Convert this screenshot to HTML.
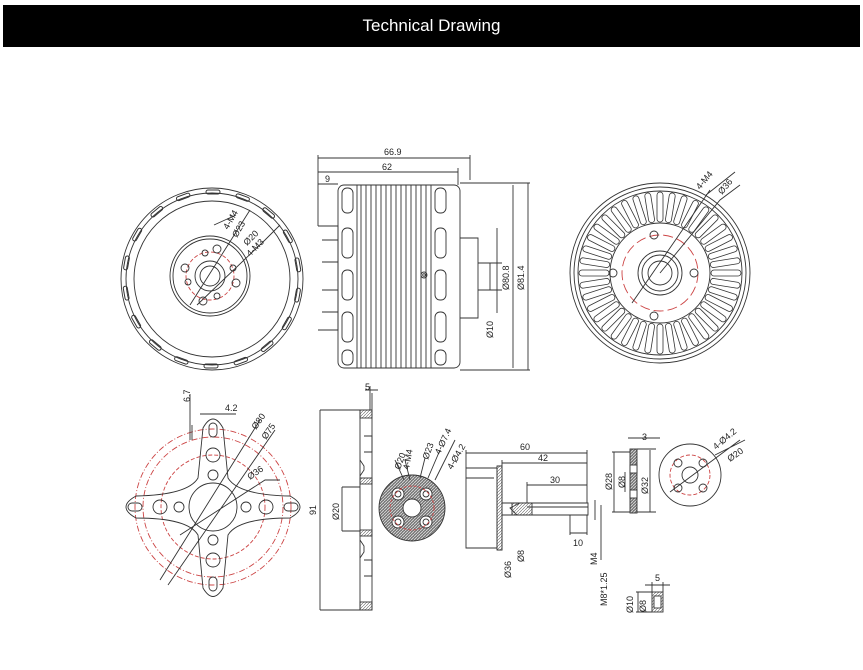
<!DOCTYPE html>
<html><head><meta charset="utf-8"><style>
html,body{margin:0;padding:0;background:#fff;width:863px;height:670px;overflow:hidden}
.hd{position:absolute;left:3px;top:5px;width:857px;height:42px;background:#000;color:#fff;font:17px "Liberation Sans",sans-serif;text-align:center;line-height:42px}
svg{position:absolute;left:0;top:0}
text{font-family:"Liberation Sans",sans-serif;font-size:9px;fill:#222;stroke:none}
</style></head><body>
<div class="hd">Technical Drawing</div>
<svg width="863" height="670" viewBox="0 0 863 670" fill="none" stroke="#333" stroke-width="0.9">
<defs>
<pattern id="h" width="3" height="3" patternUnits="userSpaceOnUse"><rect width="3" height="3" fill="#777" stroke="none"/><path d="M0 3L3 0" stroke="#ddd" stroke-width="0.8"/></pattern>
<pattern id="h2" width="3" height="3" patternUnits="userSpaceOnUse"><path d="M0 3L3 0" stroke="#666" stroke-width="0.6"/></pattern>
<rect id="s1" x="206" y="190" width="14" height="4" rx="2"/>
<rect id="f1" x="657" y="192" width="6" height="30" rx="3"/>
</defs>
<!-- View 1 -->
<g>
<circle cx="212" cy="279" r="91"/><circle cx="212" cy="279" r="86"/><circle cx="212" cy="279" r="78"/>
<circle cx="210" cy="276" r="40"/><circle cx="210" cy="276" r="37"/>
<circle cx="210" cy="276" r="24" stroke="#c44" stroke-dasharray="4 2"/>
<circle cx="210" cy="276" r="15"/><circle cx="210" cy="276" r="10"/>
<circle cx="217" cy="249" r="4"/><circle cx="233" cy="268" r="3"/><circle cx="236" cy="283" r="4"/><circle cx="203" cy="301" r="4"/><circle cx="217" cy="296" r="3"/><circle cx="185" cy="268" r="4"/><circle cx="188" cy="282" r="3"/><circle cx="205" cy="253" r="3"/>
<path d="M190 305L250 210M197 305L265 240L280 225M214 225L236 215"/>
<text transform="translate(228 230) rotate(-60)">4-M4</text>
<text transform="translate(237 238) rotate(-60)">Ø23</text>
<text transform="translate(247 246) rotate(-45)">Ø20</text>
<text transform="translate(250 257) rotate(-45)">4-M3</text>
<g stroke-width="1">
<use href="#s1"/><use href="#s1" transform="rotate(20 212 279)"/><use href="#s1" transform="rotate(40 212 279)"/><use href="#s1" transform="rotate(60 212 279)"/><use href="#s1" transform="rotate(80 212 279)"/><use href="#s1" transform="rotate(100 212 279)"/><use href="#s1" transform="rotate(120 212 279)"/><use href="#s1" transform="rotate(140 212 279)"/><use href="#s1" transform="rotate(160 212 279)"/><use href="#s1" transform="rotate(180 212 279)"/><use href="#s1" transform="rotate(200 212 279)"/><use href="#s1" transform="rotate(220 212 279)"/><use href="#s1" transform="rotate(240 212 279)"/><use href="#s1" transform="rotate(260 212 279)"/><use href="#s1" transform="rotate(280 212 279)"/><use href="#s1" transform="rotate(300 212 279)"/><use href="#s1" transform="rotate(320 212 279)"/><use href="#s1" transform="rotate(340 212 279)"/>
</g>
</g>
<!-- View 2 side -->
<g>
<path d="M318 155V226M470 155V180M458 168V185M318 226H338V330H318"/>
<path d="M318 158H470M318 172H458M318 184H338"/>
<text x="384" y="155">66.9</text><text x="382" y="170">62</text><text x="325" y="182">9</text>
<rect x="338" y="185" width="122" height="183" rx="6"/>
<path d="M322 240H338M322 262H338M322 290H338M322 312H338"/>
<path d="M357 185V368M361 185V368M366 185V368M371 185V368M376 185V368M381 185V368M386 185V368M391 185V368M396 185V368M401 185V368M406 185V368M411 185V368M416 185V368M421 185V368M426 185V368M431 185V368"/>
<rect x="342" y="188" width="11" height="25" rx="5"/><rect x="342" y="228" width="11" height="30" rx="5"/><rect x="342" y="270" width="11" height="30" rx="5"/><rect x="342" y="312" width="11" height="30" rx="5"/><rect x="342" y="350" width="11" height="15" rx="5"/>
<rect x="435" y="188" width="11" height="25" rx="5"/><rect x="435" y="228" width="11" height="30" rx="5"/><rect x="435" y="270" width="11" height="30" rx="5"/><rect x="435" y="312" width="11" height="30" rx="5"/><rect x="435" y="350" width="11" height="15" rx="5"/>
<circle cx="424" cy="275" r="3"/><circle cx="424" cy="275" r="1.3"/>
<path d="M460 238H478V318H460M478 263H490V290H478M460 183H530M460 370H530M490 263H502M490 290H502"/>
<path d="M497 228V313M513 185V368M528 183V370"/>
<text transform="translate(493 338) rotate(-90)">Ø10</text>
<text transform="translate(509 290) rotate(-90)">Ø80.8</text>
<text transform="translate(524 290) rotate(-90)">Ø81.4</text>
</g>
<!-- View 3 -->
<g>
<circle cx="660" cy="273" r="90"/><circle cx="660" cy="273" r="86"/><circle cx="660" cy="273" r="82"/>
<circle cx="660" cy="273" r="50"/>
<circle cx="660" cy="273" r="22"/><circle cx="660" cy="273" r="18"/><circle cx="660" cy="273" r="12"/>
<circle cx="660" cy="273" r="38" stroke="#c44" stroke-dasharray="10 4"/>
<circle cx="654" cy="235" r="4"/><circle cx="613" cy="273" r="4"/><circle cx="694" cy="273" r="4"/><circle cx="654" cy="316" r="4"/>
<path d="M632 303L710 190M660 273L720 200L740 185M706 195L735 172"/>
<text transform="translate(700 190) rotate(-50)">4-M4</text>
<text transform="translate(722 195) rotate(-50)">Ø36</text>
<g stroke-width="0.8">
<use href="#f1"/><use href="#f1" transform="rotate(9 660 273)"/><use href="#f1" transform="rotate(18 660 273)"/><use href="#f1" transform="rotate(27 660 273)"/><use href="#f1" transform="rotate(36 660 273)"/><use href="#f1" transform="rotate(45 660 273)"/><use href="#f1" transform="rotate(54 660 273)"/><use href="#f1" transform="rotate(63 660 273)"/><use href="#f1" transform="rotate(72 660 273)"/><use href="#f1" transform="rotate(81 660 273)"/><use href="#f1" transform="rotate(90 660 273)"/><use href="#f1" transform="rotate(99 660 273)"/><use href="#f1" transform="rotate(108 660 273)"/><use href="#f1" transform="rotate(117 660 273)"/><use href="#f1" transform="rotate(126 660 273)"/><use href="#f1" transform="rotate(135 660 273)"/><use href="#f1" transform="rotate(144 660 273)"/><use href="#f1" transform="rotate(153 660 273)"/><use href="#f1" transform="rotate(162 660 273)"/><use href="#f1" transform="rotate(171 660 273)"/><use href="#f1" transform="rotate(180 660 273)"/><use href="#f1" transform="rotate(189 660 273)"/><use href="#f1" transform="rotate(198 660 273)"/><use href="#f1" transform="rotate(207 660 273)"/><use href="#f1" transform="rotate(216 660 273)"/><use href="#f1" transform="rotate(225 660 273)"/><use href="#f1" transform="rotate(234 660 273)"/><use href="#f1" transform="rotate(243 660 273)"/><use href="#f1" transform="rotate(252 660 273)"/><use href="#f1" transform="rotate(261 660 273)"/><use href="#f1" transform="rotate(270 660 273)"/><use href="#f1" transform="rotate(279 660 273)"/><use href="#f1" transform="rotate(288 660 273)"/><use href="#f1" transform="rotate(297 660 273)"/><use href="#f1" transform="rotate(306 660 273)"/><use href="#f1" transform="rotate(315 660 273)"/><use href="#f1" transform="rotate(324 660 273)"/><use href="#f1" transform="rotate(333 660 273)"/><use href="#f1" transform="rotate(342 660 273)"/><use href="#f1" transform="rotate(351 660 273)"/>
</g>
</g>
<!-- View 4 cross -->
<g>
<circle cx="213" cy="507" r="78" stroke="#c44" stroke-dasharray="6 2 1 2"/>
<circle cx="213" cy="507" r="70" stroke="#c44" stroke-dasharray="6 2 1 2"/>
<circle cx="213" cy="507" r="52" stroke="#c44" stroke-dasharray="4 2"/>
<path d="M203 428Q213 410 223 428L228 478Q238 495 290 496Q310 507 290 518Q238 518 228 535L223 588Q213 605 203 588L198 535Q188 518 136 518Q116 507 136 496Q188 495 198 478Z"/>
<circle cx="213" cy="507" r="24"/>
<circle cx="213" cy="455" r="7"/><circle cx="213" cy="475" r="5"/><circle cx="213" cy="540" r="5"/><circle cx="213" cy="560" r="7"/>
<circle cx="160" cy="507" r="7"/><circle cx="179" cy="507" r="5"/><circle cx="246" cy="507" r="5"/><circle cx="266" cy="507" r="7"/>
<rect x="209" y="423" width="8" height="14" rx="4"/><rect x="209" y="577" width="8" height="14" rx="4"/><rect x="128" y="503" width="14" height="8" rx="4"/><rect x="284" y="503" width="14" height="8" rx="4"/>
<path d="M160 580L260 420M168 585L275 430M180 535L265 480L280 480M192 440V425M200 414H236M190 394V440"/>
<text x="225" y="411">4.2</text>
<text transform="translate(190 402) rotate(-90)">6.7</text>
<text transform="translate(256 430) rotate(-55)">Ø80</text>
<text transform="translate(266 440) rotate(-55)">Ø75</text>
<text transform="translate(250 480) rotate(-35)">Ø36</text>
</g>
<!-- View 5 plate side -->
<g>
<rect x="360" y="410" width="12" height="200"/>
<rect x="360" y="410" width="12" height="8" fill="url(#h2)"/><rect x="360" y="602" width="12" height="8" fill="url(#h2)"/>
<rect x="360" y="478" width="12" height="6" fill="url(#h2)"/><rect x="360" y="530" width="12" height="6" fill="url(#h2)"/>
<path d="M364 436H372V452H364M364 560H372V576H364M360 460L364 466V470L360 476M360 540L364 546V552L360 558"/>
<path d="M370 386V410M372 393V410M365 390H378"/><text x="365" y="390">5</text>
<path d="M320 410H360M320 610H360M320 410V610M342 487H360M342 531H360M342 487V531"/>
<text transform="translate(316 515) rotate(-90)">91</text>
<text transform="translate(339 520) rotate(-90)">Ø20</text>
</g>
<!-- View 6 hatched disc -->
<g>
<circle cx="412" cy="508" r="33" fill="url(#h)"/>
<circle cx="412" cy="508" r="9" fill="#fff"/>
<circle cx="398" cy="494" r="6" fill="#fff"/><circle cx="426" cy="494" r="6" fill="#fff"/><circle cx="398" cy="522" r="6" fill="#fff"/><circle cx="426" cy="522" r="6" fill="#fff"/>
<circle cx="398" cy="494" r="3"/><circle cx="426" cy="494" r="3"/><circle cx="398" cy="522" r="3"/><circle cx="426" cy="522" r="3"/>
<circle cx="412" cy="508" r="22" stroke="#c44" stroke-dasharray="3 2"/>
<path d="M395 460L404 480M405 460L410 480M425 458L420 478M440 450L428 478M455 440L435 480"/>
<text transform="translate(400 470) rotate(-70)">Ø20</text>
<text transform="translate(409 470) rotate(-80)">4-M4</text>
<text transform="translate(428 460) rotate(-70)">Ø23</text>
<text transform="translate(440 455) rotate(-65)">4-Ø7.4</text>
<text transform="translate(452 470) rotate(-60)">4-Ø4.2</text>
</g>
<!-- View 7 shaft -->
<g>
<path d="M466 468H497V548H466ZM497 466H502V550H497M502 503H588V515H502M527 507H588M520 503L510 508L517 515M466 478H494"/>
<rect x="497" y="466" width="5" height="84" fill="url(#h2)"/>
<rect x="512" y="503" width="20" height="12" fill="url(#h2)"/>
<path d="M466 450V468M587 450V503M502 460V466M466 453H587M502 463H587M527 482V503M527 485H587M570 515V535M587 515V535M570 533H587M595 500V520M601 505V560"/>
<text x="520" y="450">60</text><text x="538" y="461">42</text><text x="550" y="483">30</text><text x="573" y="546">10</text>
<text transform="translate(511 578) rotate(-90)">Ø36</text>
<text transform="translate(524 562) rotate(-90)">Ø8</text>
<text transform="translate(597 565) rotate(-90)">M4</text>
<text transform="translate(607 606) rotate(-90)">M8*1.25</text>
</g>
<!-- View 8 washer -->
<g>
<rect x="630" y="449" width="7" height="64" fill="url(#h)"/>
<rect x="630" y="465" width="7" height="8" fill="#fff"/><rect x="630" y="490" width="7" height="8" fill="#fff"/>
<path d="M614 452V512M625 472V492M650 450V512M612 452H630M612 512H630M637 449H656M637 512H656M628 438H660"/>
<text x="642" y="440">3</text>
<text transform="translate(612 490) rotate(-90)">Ø28</text>
<text transform="translate(625 488) rotate(-90)">Ø8</text>
<text transform="translate(648 494) rotate(-90)">Ø32</text>
<circle cx="690" cy="475" r="31"/><circle cx="690" cy="475" r="8"/>
<circle cx="690" cy="475" r="20" stroke="#c44" stroke-dasharray="4 2"/>
<circle cx="678" cy="463" r="4"/><circle cx="703" cy="463" r="4"/><circle cx="678" cy="488" r="4"/><circle cx="703" cy="488" r="4"/>
<path d="M670 492L740 440M715 455L745 440"/>
<text transform="translate(716 450) rotate(-40)">4-Ø4.2</text>
<text transform="translate(730 462) rotate(-35)">Ø20</text>
<rect x="652" y="592" width="11" height="20" fill="url(#h2)"/><rect x="654" y="596" width="7" height="12" fill="#fff"/>
<path d="M636 592H652M636 612H652M652 582V592M663 582V592M645 585H670M638 592V612"/>
<text x="655" y="581">5</text>
<text transform="translate(633 613) rotate(-90)">Ø10</text>
<text transform="translate(646 612) rotate(-90)">Ø8</text>
</g>
</svg>
</body></html>
